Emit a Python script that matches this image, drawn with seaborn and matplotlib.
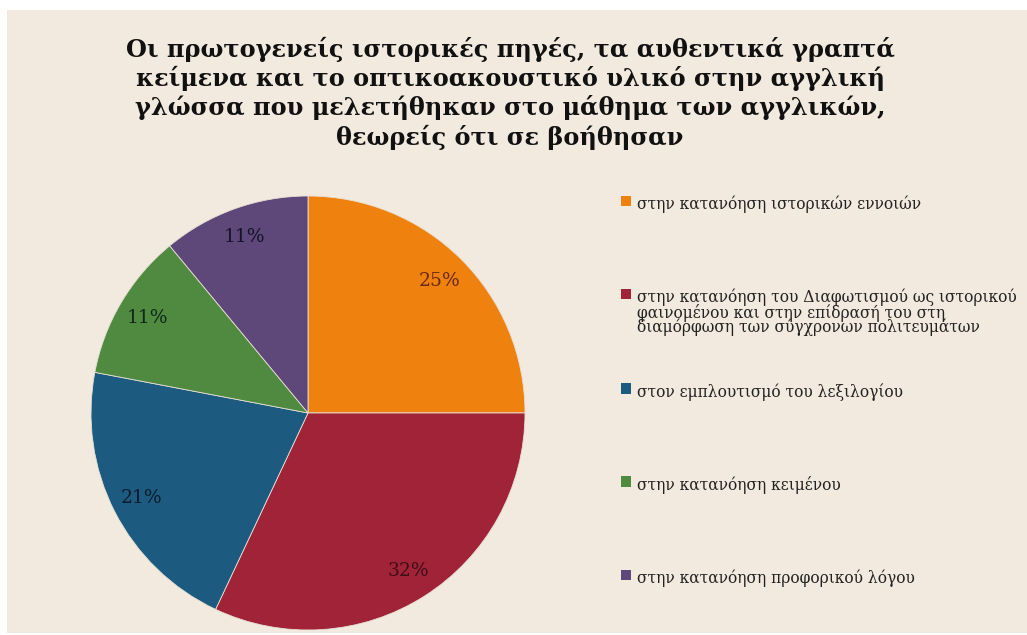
import matplotlib
matplotlib.use("Agg")
import matplotlib.pyplot as plt
import seaborn as sns
from matplotlib.patches import Patch, Rectangle

# Data
categories = [
    "στην κατανόηση ιστορικών εννοιών",
    "στην κατανόηση του Διαφωτισμού ως ιστορικού\nφαινομένου και στην επίδρασή του στη\nδιαμόρφωση των σύγχρονων πολιτευμάτων",
    "στον εμπλουτισμό του λεξιλογίου",
    "στην κατανόηση κειμένου",
    "στην κατανόηση προφορικού λόγου",
]
shares = [25, 32, 21, 11, 11]
colors = ["#EF810F", "#A12337", "#1C5A7F", "#4F8A40", "#5E4779"]
label_colors = ["#6A2A12", "#3E0E16", "#0C1B2C", "#10281A", "#15122A"]

title = ("Οι πρωτογενείς ιστορικές πηγές, τα αυθεντικά γραπτά\n"
         "κείμενα και το οπτικοακουστικό υλικό στην αγγλική\n"
         "γλώσσα που μελετήθηκαν στο μάθημα των αγγλικών,\n"
         "θεωρείς ότι σε βοήθησαν")

sns.set_theme(style="white")
plt.rcParams["font.family"] = ["DejaVu Serif", "DejaVu Sans"]

W, H = 1027, 635
fig = plt.figure(figsize=(W / 100, H / 100), dpi=100)
fig.patch.set_facecolor("white")
bg = "#F2EADF"
fig.patches.append(Rectangle((7 / W, 2 / H), 1 - 7 / W, 1 - 12 / H,
                             transform=fig.transFigure, facecolor=bg,
                             edgecolor="none", zorder=-5))

# pie axes placed so the disc sits at the reference position
cx, cy, r = 308, 413, 217
ax = fig.add_axes([(cx - r) / W, (H - cy - r) / H, 2 * r / W, 2 * r / H])
ax.set_facecolor("none")
wedges, texts, autotexts = ax.pie(
    shares, colors=colors, startangle=90, counterclock=False,
    autopct="%1.0f%%", pctdistance=0.86,
    wedgeprops=dict(edgecolor="#E8E0D4", linewidth=0.6),
    textprops=dict(fontsize=13.5),
)
for t, c in zip(autotexts, label_colors):
    t.set_color(c)
ax.set_aspect("equal")
ax.set_xlim(-1, 1)
ax.set_ylim(-1, 1)

fig.text(510 / W, 1 - 37 / H, title, ha="center", va="top",
         fontsize=17.3, fontweight="bold", color="#111111", linespacing=1.2)

# legend: every label padded to three lines so the entries are evenly stacked
handles = [Patch(facecolor=c, edgecolor="none") for c in colors]
labels = [c + "\n" * (2 - c.count("\n")) for c in categories]
leg = fig.legend(handles, labels, loc="upper left",
                 bbox_to_anchor=(621 / W, 1 - 196 / H),
                 frameon=False, fontsize=11.2, handlelength=0.65,
                 handleheight=0.65, handletextpad=0.35, labelspacing=3.0,
                 borderaxespad=0, borderpad=0)
for t in leg.get_texts():
    t.set_linespacing(0.8)
    t.set_color("#222222")
for col in leg._legend_handle_box.get_children():
    for item in col.get_children():
        item.align = "top"

fig.savefig("out.png", dpi=100, facecolor=fig.get_facecolor())
